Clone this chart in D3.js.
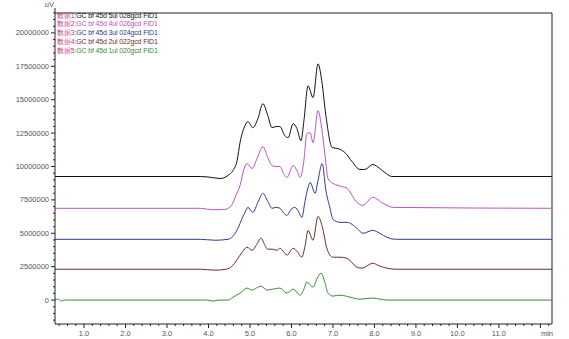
<!DOCTYPE html>
<html>
<head>
<meta charset="utf-8">
<script src="https://cdn.jsdelivr.net/npm/d3@7"></script>
<style>
  body { margin: 0; background: #fff; }
  svg { display: block; font-family: "Liberation Sans", Arial, sans-serif; }
</style>
</head>
<body>
<svg id="chart" width="569" height="339"></svg>
<script>
// retention time (min) / signal (uV)
const trace1 = [[0.30,9250000],[3.80,9250000],[4.08,9180000],[4.28,9100000],[4.47,9330000],[4.59,9700000],[4.69,10450000],[4.76,11790000],[4.88,13060000],[4.95,13360000],[5.07,12900000],[5.19,13580000],[5.31,14700000],[5.43,13810000],[5.53,12910000],[5.63,12990000],[5.72,12990000],[5.84,12310000],[5.92,12160000],[6.04,13210000],[6.13,12840000],[6.23,11940000],[6.30,13430000],[6.40,16040000],[6.52,15150000],[6.64,17690000],[6.73,16420000],[6.83,13800000],[6.98,11420000],[7.12,11340000],[7.29,11040000],[7.46,10370000],[7.65,9780000],[7.77,9780000],[7.96,10150000],[8.13,9850000],[8.28,9480000],[8.42,9250000],[12.28,9250000]];
const trace2 = [[0.30,6870000],[3.80,6870000],[4.11,6760000],[4.40,6790000],[4.57,7160000],[4.66,7840000],[4.76,8580000],[4.86,9850000],[4.93,10220000],[5.05,9850000],[5.17,10600000],[5.31,11490000],[5.43,10670000],[5.53,10070000],[5.63,10000000],[5.72,10000000],[5.82,9400000],[5.89,9180000],[6.04,10070000],[6.13,9700000],[6.21,9180000],[6.30,10450000],[6.37,12460000],[6.45,12540000],[6.52,11790000],[6.64,14180000],[6.73,12840000],[6.81,10820000],[6.88,9100000],[7.00,8730000],[7.12,8580000],[7.34,8360000],[7.58,7310000],[7.72,7090000],[7.96,7690000],[8.21,7240000],[8.45,6940000],[12.28,6870000]];
const trace3 = [[0.30,4550000],[3.80,4550000],[4.16,4480000],[4.47,4550000],[4.59,4780000],[4.71,5370000],[4.81,6120000],[4.88,6570000],[4.95,6940000],[5.07,6570000],[5.19,7310000],[5.31,7990000],[5.43,7390000],[5.53,6870000],[5.63,6940000],[5.72,6870000],[5.82,6490000],[5.89,6340000],[5.99,6790000],[6.08,6940000],[6.18,6570000],[6.25,6190000],[6.33,7460000],[6.40,8430000],[6.45,8810000],[6.57,7990000],[6.64,8960000],[6.74,10220000],[6.83,8210000],[6.93,6870000],[7.00,6040000],[7.17,5820000],[7.34,5820000],[7.58,5370000],[7.72,5000000],[7.96,5220000],[8.13,5000000],[8.30,4700000],[8.54,4550000],[12.28,4550000]];
const trace4 = [[0.30,2310000],[3.80,2310000],[4.16,2240000],[4.42,2310000],[4.59,2610000],[4.71,3130000],[4.81,3580000],[4.93,3960000],[5.05,3730000],[5.15,4100000],[5.27,4630000],[5.36,4100000],[5.43,3810000],[5.55,3810000],[5.65,3730000],[5.72,3880000],[5.82,3580000],[5.89,3360000],[6.04,3880000],[6.13,3660000],[6.25,3210000],[6.33,4100000],[6.40,5220000],[6.52,4480000],[6.64,6270000],[6.74,5520000],[6.86,3810000],[7.00,3210000],[7.17,3210000],[7.34,3130000],[7.58,2460000],[7.70,2390000],[7.96,2760000],[8.13,2540000],[8.30,2390000],[8.54,2310000],[12.28,2310000]];
const trace5 = [[0.30,0],[0.37,70000],[0.45,-70000],[0.52,0],[3.80,0],[3.98,0],[4.11,-80000],[4.25,0],[4.47,0],[4.59,220000],[4.76,520000],[4.93,900000],[5.05,750000],[5.15,900000],[5.27,1040000],[5.41,750000],[5.55,820000],[5.72,900000],[5.89,520000],[6.04,820000],[6.21,370000],[6.30,820000],[6.37,1340000],[6.52,970000],[6.61,1570000],[6.71,2010000],[6.81,1270000],[6.88,520000],[7.00,300000],[7.17,370000],[7.41,220000],[7.65,70000],[7.96,150000],[8.30,0],[12.28,0]];

const seriesNames = ["数据1:GC bf 45d 5ul 028gcd FID1", "数据2:GC bf 45d 4ul 026gcd FID1", "数据3:GC bf 45d 3ul 024gcd FID1", "数据4:GC bf 45d 2ul 022gcd FID1", "数据5:GC bf 45d 1ul 020gcd FID1"];
const seriesColors = ["#111111", "#c050c8", "#2e3a8c", "#6a2e2e", "#3a8a3a"];
const xTickLabels = ["1.0","2.0","3.0","4.0","5.0","6.0","7.0","8.0","9.0","10.0","11.0"];
const yTickLabels = ["0","2500000","5000000","7500000","10000000","12500000","15000000","17500000","20000000"];

const traces = [trace1, trace2, trace3, trace4, trace5];

const svg = d3.select("#chart");
const margin = { top: 13, right: 17, bottom: 15, left: 55 };
const W = 569, H = 339;

const x = d3.scaleLinear().domain([0.30, 12.28]).range([margin.left, W - margin.right]);
const y = d3.scaleLinear().domain([-1790000, 21490000]).range([H - margin.bottom, margin.top]);

const grey = "#555";

// frame (top + right)
svg.append("path")
  .attr("d", `M${margin.left},${margin.top}H${W - margin.right}V${H - margin.bottom}`)
  .attr("fill", "none").attr("stroke", "#222").attr("stroke-width", 1);

// traces
const line = d3.line().x(d => x(d[0])).y(d => y(d[1])).curve(d3.curveMonotoneX);
svg.selectAll(".trace")
  .data(traces.slice().reverse())
  .enter().append("path")
  .attr("class", "trace")
  .attr("d", line)
  .attr("fill", "none")
  .attr("stroke", (d, i) => seriesColors[traces.length - 1 - i])
  .attr("stroke-width", 1);

// x axis
const xMajor = xTickLabels.map(Number);
const xMinor = d3.range(0.4, 12.21, 0.2).filter(t => Math.abs(t - Math.round(t)) > 0.01);
const gx = svg.append("g").attr("transform", `translate(0,${H - margin.bottom})`);
gx.append("line").attr("x1", margin.left).attr("x2", W - margin.right).attr("stroke", "#222");
gx.selectAll(".minor").data(xMinor).enter().append("line")
  .attr("x1", d => x(d)).attr("x2", d => x(d)).attr("y1", 0).attr("y2", 2).attr("stroke", "#222");
gx.selectAll(".major").data(xMajor.concat([12])).enter().append("line")
  .attr("x1", d => x(d)).attr("x2", d => x(d)).attr("y1", 0).attr("y2", 4).attr("stroke", "#222");
gx.selectAll(".lbl").data(xTickLabels).enter().append("text")
  .attr("x", d => x(+d)).attr("y", 12)
  .attr("text-anchor", "middle").attr("font-size", 7.5).attr("fill", grey).text(d => d);
gx.append("text").attr("x", W - margin.right - 5).attr("y", 12)
  .attr("text-anchor", "middle").attr("font-size", 7.5).attr("fill", grey).text("min");

// y axis
const yMajor = yTickLabels.map(Number);
const yMinor = d3.range(-1500000, 21500001, 500000).filter(v => v % 2500000 !== 0);
const gy = svg.append("g").attr("transform", `translate(${margin.left},0)`);
gy.append("line").attr("y1", margin.top - 5).attr("y2", H - margin.bottom).attr("stroke", "#222");
gy.selectAll(".minor").data(yMinor).enter().append("line")
  .attr("y1", d => y(d)).attr("y2", d => y(d)).attr("x1", 0).attr("x2", -2).attr("stroke", "#222");
gy.selectAll(".major").data(yMajor).enter().append("line")
  .attr("y1", d => y(d)).attr("y2", d => y(d)).attr("x1", 0).attr("x2", -4).attr("stroke", "#222");
gy.selectAll(".lbl").data(yTickLabels).enter().append("text")
  .attr("x", -6).attr("y", d => y(+d) + 2.5)
  .attr("text-anchor", "end").attr("font-size", 7.5).attr("fill", grey).text(d => d);
gy.append("text").attr("x", -1).attr("y", 7)
  .attr("text-anchor", "end").attr("font-size", 7.5).attr("fill", grey).text("uV");

// legend
const lg = svg.append("g").attr("transform", `translate(${margin.left + 2},0)`);
seriesNames.forEach((name, i) => {
  const t = lg.append("text").attr("x", 0).attr("y", 17.5 + i * 8.8)
    .attr("font-size", 7).attr("letter-spacing", -0.15);
  t.append("tspan").attr("fill", "#c0407a").text(name.slice(0, 3));
  t.append("tspan").attr("fill", seriesColors[i]).text(name.slice(3));
});
</script>
</body>
</html>
